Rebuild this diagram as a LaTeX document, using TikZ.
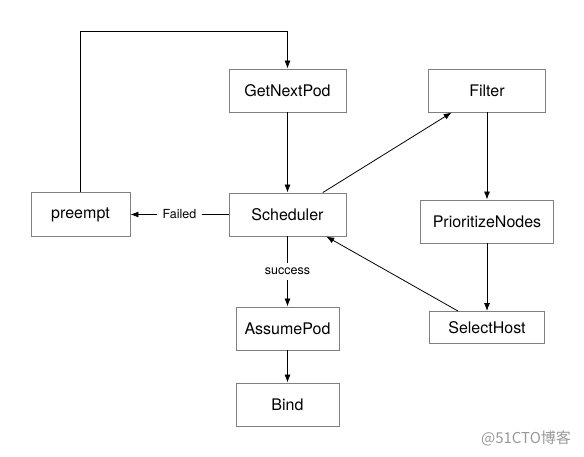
\documentclass[tikz,border=0pt]{standalone}
\usepackage{fontspec}
\setmainfont{TeX Gyre Heros}
\newfontfamily\cjk{Noto Sans CJK SC}
\usetikzlibrary{arrows.meta}

\begin{document}
\begin{tikzpicture}[x=1pt, y=-1pt, node distance={124pt}, line width=0.8pt, >={Latex[length=8pt,width=6pt]},
  main/.style = {draw=gray, line width=0.9pt, minimum width=117pt, minimum height=43pt, font=\fontsize{16}{19}\selectfont},
  lbl/.style = {fill=white, inner xsep=6pt, font=\fontsize{12.5}{15}\selectfont}]
\useasboundingbox (0,0) rectangle (584,457);
\node[main] (gnp) at (287.5,90.5) {GetNextPod};
\node[main] (sch) [below of=gnp] {Scheduler};
\node[main, minimum width=99pt, minimum height=44pt] (pre) [node distance=207pt, left of=sch] {preempt};
\node[main] (filter) [node distance=199.5pt, right of=gnp] {Filter};
\node[main, minimum width=133pt] (pn) [node distance=131pt, below of=filter] {PrioritizeNodes};
\node[main, minimum width=115pt, minimum height=32pt] (sh) [node distance=106pt, below of=pn] {SelectHost};
\node[main, minimum width=103pt] (ap) [node distance=114pt, below of=sch] {AssumePod};
\node[main, minimum width=103pt] (bind) [node distance=76pt, below of=ap] {Bind};
\coordinate (top) at (0,31.5);
\draw[->] (pre) -- (pre |- top) -| (gnp);
\draw[->] (gnp) -- (sch);
\draw[->] (sch) -- node[lbl] {Failed} (pre);
\draw[->] (sch) -- node[lbl, inner ysep=5pt] {success} (ap);
\draw[->] (ap) -- (bind);
\draw[->] (sch) -- (filter);
\draw[->] (filter) -- (pn);
\draw[->] (pn) -- (sh);
\draw[->] (sh) -- (sch);
\node[text=gray!80, font=\cjk\fontsize{15}{18}\selectfont] (mark) at (526,438) {@51CTO博客};
\end{tikzpicture}
\end{document}
